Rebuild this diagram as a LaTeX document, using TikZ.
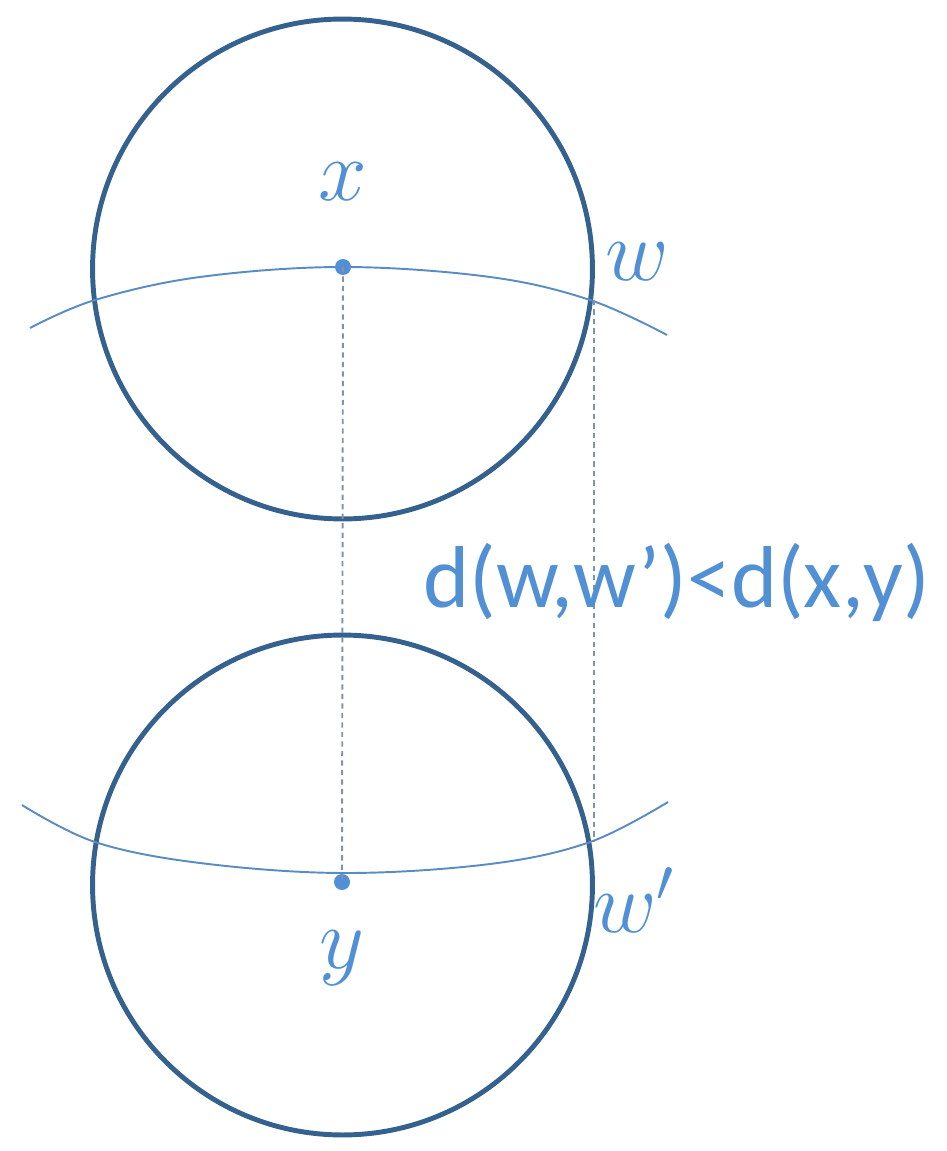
\documentclass[tikz,border=0pt]{standalone}
\usepackage{fontspec}
\setmainfont{Carlito}
\definecolor{circblue}{HTML}{35618F}
\definecolor{arcblue}{HTML}{5A8CC4}
\definecolor{txtblue}{HTML}{5290D6}
\definecolor{dashgray}{HTML}{7F93AD}
\begin{document}
\begin{tikzpicture}[x=0.02cm,y=-0.02cm,
  ball/.style={circle,draw=circblue,line width=2.8pt,minimum size=10cm,inner sep=0pt},
  arcline/.style={draw=arcblue,line width=1.1pt},
  dashline/.style={draw=dashgray,line width=1.1pt,dash pattern=on 3pt off 2.4pt},
  dotpt/.style={circle,fill=txtblue,minimum size=0.32cm,inner sep=0pt},
  mlabel/.style={text=txtblue,font=\fontsize{25}{30}\selectfont,scale=2,inner sep=0pt},
  flabel/.style={text=txtblue,font=\fontsize{50}{60}\selectfont,inner sep=0pt}]
\useasboundingbox (0,0) rectangle (946,1151);
\node[ball] (top) at (342.5,269) {};
\node[ball] (bot) at (342.5,885) {};
\draw[arcline] plot[smooth,tension=0.6] coordinates {(30,328) (95,300) (200,277) (343,267) (490,277) (590,300) (667,335)};
\draw[arcline] plot[smooth,tension=0.6] coordinates {(22,805) (95,842) (200,863) (343,873) (490,864) (590,842) (668,802)};
\node[dotpt] (xdot) at (343,267) {};
\node[dotpt] (ydot) at (342,882) {};
\coordinate (w) at (594,300);
\coordinate (wp) at (594,842);
\draw[dashline] (xdot.center) -- (ydot.center);
\draw[dashline] (w) -- (wp);
\node[mlabel] (xl) at (343,182) {$x$};
\node[mlabel] (wl) at (637,262) {$w$};
\node[mlabel] (wpl) at (634,900) {$w'$};
\node[mlabel] (yl) at (342,958) {$y$};
\node[flabel] (f) at (677,582) {d(w,w’)<d(x,y)};
\end{tikzpicture}
\end{document}
